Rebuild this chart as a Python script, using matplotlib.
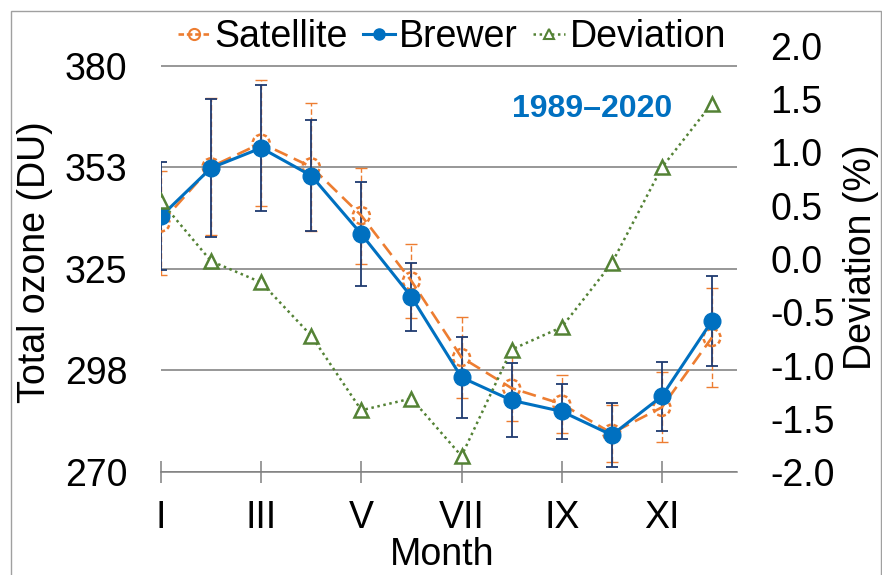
import numpy as np
import matplotlib
matplotlib.use('Agg')
import matplotlib.pyplot as plt
from matplotlib.lines import Line2D
from matplotlib.patches import Rectangle

plt.rcParams['font.family'] = ['Liberation Sans', 'DejaVu Sans']
plt.rcParams['axes.unicode_minus'] = False
plt.rcParams['lines.scale_dashes'] = False

# monthly means (DU)
months = np.arange(1, 13)
tick_months = [1, 3, 5, 7, 9, 11]
tick_names = ['I', 'III', 'V', 'VII', 'IX', 'XI']

satellite = [337.4, 352.6, 359.0, 352.6, 339.4, 321.7, 301.0, 292.7, 288.4, 280.5, 287.5, 306.4]
sat_err = [14.0, 18.5, 17.0, 17.3, 13.0, 10.0, 11.0, 9.0, 7.8, 7.7, 9.5, 13.4]
brewer = [339.2, 352.3, 357.7, 350.2, 334.4, 317.4, 295.6, 289.4, 286.4, 280.0, 290.5, 310.9]
brewer_err = [14.6, 18.7, 17.0, 15.0, 14.0, 9.3, 11.0, 10.0, 7.4, 8.6, 9.3, 12.2]
deviation = [0.54, -0.02, -0.22, -0.72, -1.42, -1.31, -1.85, -0.85, -0.64, -0.04, 0.86, 1.46]

left_ticks = [270, 297.5, 325, 352.5, 380]
left_names = ['270', '298', '325', '353', '380']
right_ticks = [-2.0, -1.5, -1.0, -0.5, 0.0, 0.5, 1.0, 1.5, 2.0]

orange = '#ED7D31'
blue = '#0070C0'
navy = '#1F3A70'
green = '#548235'
grey = '#808080'
fs = 27

fig = plt.figure(figsize=(8.82, 5.75), dpi=100)
ax = fig.add_axes([161/882, 103/575, 576/882, 426/575])

eb = ax.errorbar(months, satellite, yerr=sat_err, fmt='none', ecolor=orange,
                 elinewidth=1.0, capsize=4, capthick=1.0, zorder=2)
eb[2][0].set_linestyle((0, (4, 2)))
ax.errorbar(months, brewer, yerr=brewer_err, fmt='none', ecolor=navy,
            elinewidth=1.3, capsize=4, capthick=1.3, zorder=3)

ax.plot(months, satellite, color=orange, lw=1.9, dashes=(10, 5), zorder=4)
ax.scatter(months, satellite, s=150, facecolors='none', edgecolors=orange,
           linewidths=1.8, linestyles=(0, (3, 2)), zorder=4)
ax.plot(months, brewer, color=blue, lw=2.2, marker='o', ms=12, zorder=5)

ax.set_xlim(1, 12.5)
ax.set_ylim(270, 385.3)
ax.set_xticks(tick_months)
ax.set_xticklabels(tick_names, fontsize=fs)
ax.set_yticks(left_ticks)
ax.set_yticklabels(left_names, fontsize=fs)
ax.tick_params(axis='x', direction='inout', length=16, width=1.1, color=grey, pad=12)
ax.tick_params(axis='y', length=0, pad=24)
ax.yaxis.grid(True, color='#7a7a7a', lw=1.1)
ax.set_axisbelow(True)
for s in ['left', 'right', 'top']:
    ax.spines[s].set_visible(False)
ax.spines['bottom'].set_color(grey)
ax.spines['bottom'].set_linewidth(1.1)

ax.set_xlabel('Month', fontsize=fs)
ax.xaxis.set_label_coords(0.488, -0.152)
ax.set_ylabel('Total ozone (DU)', fontsize=fs)
ax.yaxis.set_label_coords(-0.188, 0.493)

ax2 = ax.twinx()
ax2.plot(months, deviation, color=green, lw=1.8, dashes=(1.8, 2.6),
         marker='^', ms=10, mfc='white', mec=green, mew=1.8, zorder=6)
ax2.set_ylim(-2, 2)
ax2.set_yticks(right_ticks)
ax2.set_yticklabels(['%.1f' % v for v in right_ticks], fontsize=fs)
ax2.tick_params(axis='y', length=0, pad=24)
for s in ax2.spines.values():
    s.set_visible(False)
ax2.set_ylabel('Deviation (%)', fontsize=fs)
ax2.yaxis.set_label_coords(1.184, 0.503)

fig.text(591.7/882, 1 - 109/575, '1989\u20132020', color=blue, fontsize=23,
         fontweight='bold', ha='center', va='center')

handles = [
    Line2D([], [], color=orange, lw=1.9, dashes=(4, 2), marker='o', ms=8, mfc='none', mec=orange, mew=1.5),
    Line2D([], [], color=blue, lw=2.2, marker='o', ms=8),
    Line2D([], [], color=green, lw=1.8, dashes=(1.8, 2.6), marker='^', ms=7, mfc='white', mec=green, mew=1.5),
]
fig.legend(handles, ['Satellite', 'Brewer', 'Deviation'], loc='center',
           bbox_to_anchor=(452/882, 1 - 37/575), ncol=3, frameon=False, fontsize=fs,
           handlelength=0.85, handletextpad=0.12, columnspacing=0.4, borderpad=0)

fig.patches.append(Rectangle((10.5/882, -0.02), 870.5/882, 1 - 10.5/575 + 0.02,
                             transform=fig.transFigure, fill=False, ec='#a0a0a0', lw=1.0))

fig.savefig('out.png', dpi=100)
